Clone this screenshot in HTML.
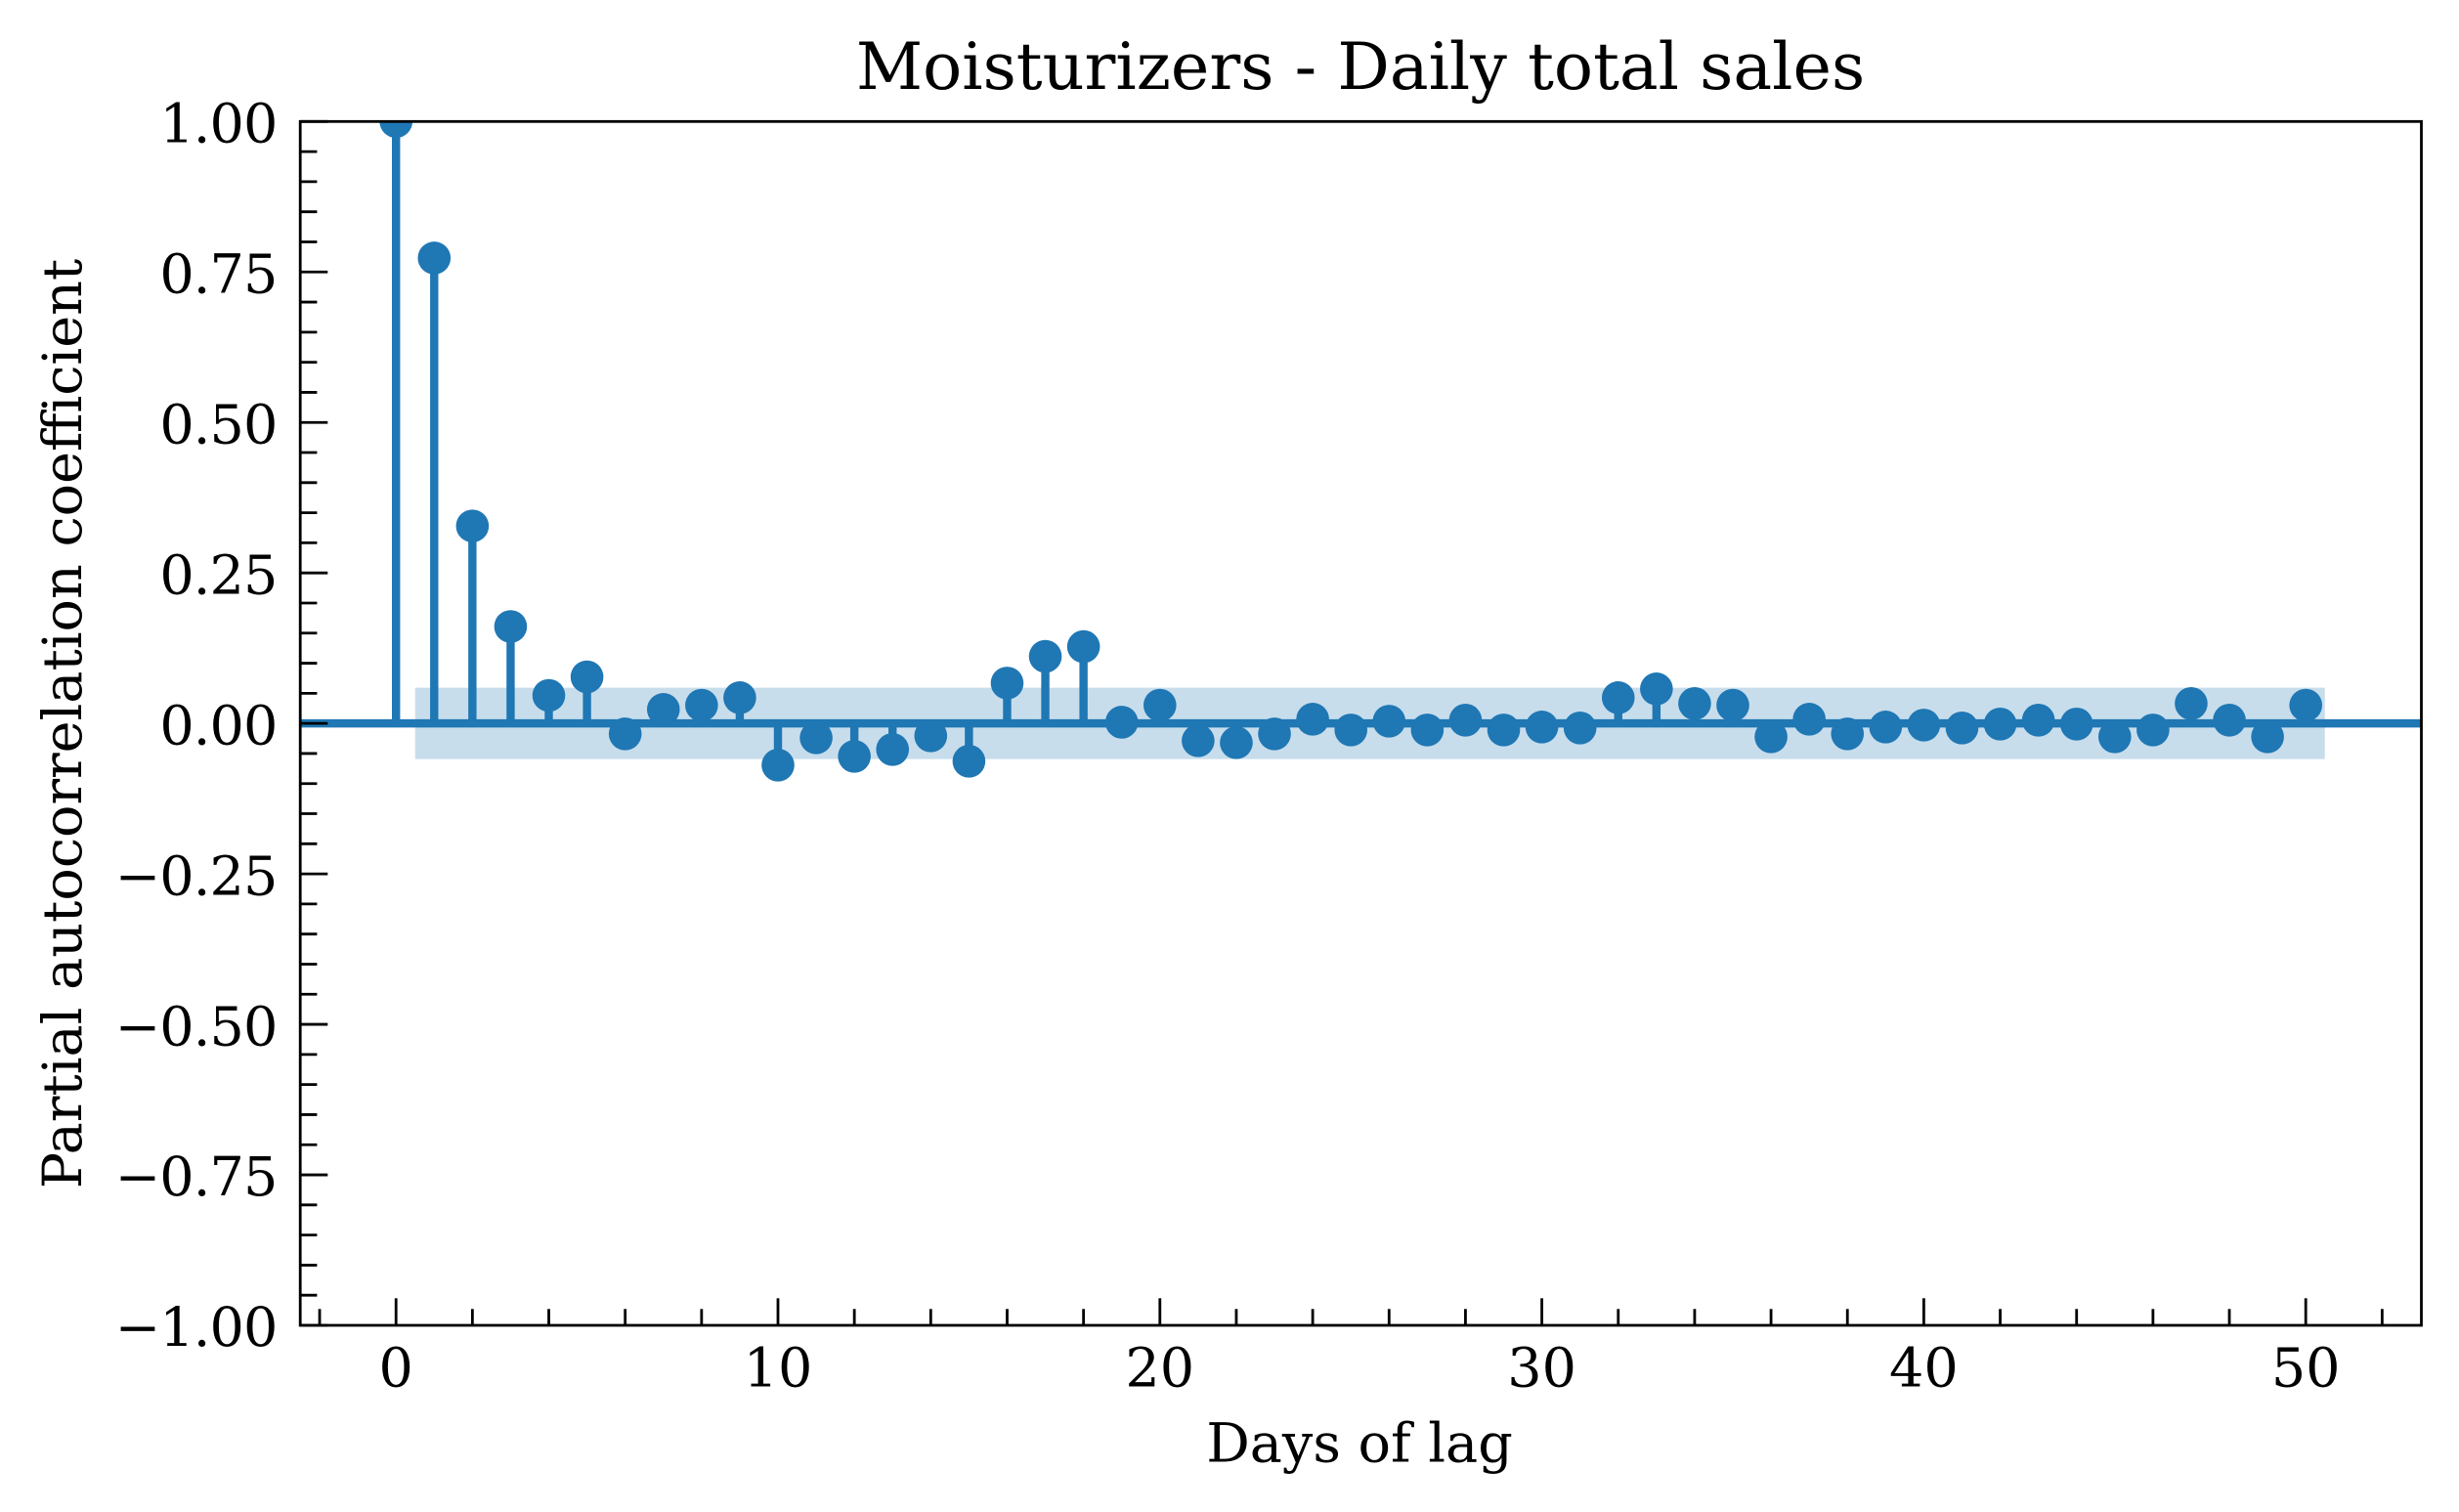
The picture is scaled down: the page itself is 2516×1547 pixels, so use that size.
<!DOCTYPE html>
<html lang="en">
<head>
<meta charset="utf-8">
<title>Moisturizers - Daily total sales</title>
<style>
html,body{margin:0;padding:0;background:#fff;}
svg{display:block;}
text{font-family:"DejaVu Serif","Liberation Serif",serif;fill:#000;}
</style>
</head>
<body>
<svg id="chart" xmlns="http://www.w3.org/2000/svg" width="2516" height="1547" viewBox="0 0 2516 1547">
  <rect x="0" y="0" width="2516" height="1547" fill="#fff"/>
  <defs><clipPath id="plot-clip"><rect x="307.2" y="124.3" width="2170.3" height="1231.7"/></clipPath></defs>
  <g id="plot" clip-path="url(#plot-clip)"></g>
  <g id="ticks"></g>
  <rect x="307.2" y="124.3" width="2170.3" height="1231.7" fill="none" stroke="#000" stroke-width="2.8"/>
  <g id="labels"></g>
  <text x="1392" y="91" font-size="66.7" text-anchor="middle">Moisturizers - Daily total sales</text>
  <text x="1391" y="1495.5" font-size="55.6" text-anchor="middle">Days of lag</text>
  <text x="0" y="0" font-size="55.6" text-anchor="middle" transform="translate(83 740.5) rotate(-90)">Partial autocorrelation coefficient</text>
</svg>
<script>
const lags = [0,1,2,3,4,5,6,7,8,9,10,11,12,13,14,15,16,17,18,19,20,21,22,23,24,25,26,27,28,29,30,31,32,33,34,35,36,37,38,39,40,41,42,43,44,45,46,47,48,49,50];
const pacfValues = [1,0.7732,0.328,0.161,0.0465,0.0773,-0.0174,0.0232,0.0302,0.0427,-0.0693,-0.0239,-0.0547,-0.0433,-0.0206,-0.0628,0.067,0.1114,0.1276,0.002,0.0302,-0.0287,-0.032,-0.0174,0.007,-0.0109,0.0037,-0.0109,0.0054,-0.0109,-0.006,-0.0076,0.0427,0.0573,0.033,0.0302,-0.0222,0.007,-0.0174,-0.006,-0.0028,-0.0076,-0.0011,0.0054,-0.0011,-0.0222,-0.0109,0.033,0.0054,-0.0222,0.0302];
const confLow = [-0.0593];
const confHigh = [0.0593];
const confRange = [0.5,50.5];
const xMajorTicks = [0,10,20,30,40,50];
const xMajorLabels = ["0","10","20","30","40","50"];
const xMinorTicks = [-2,2,4,6,8,12,14,16,18,22,24,26,28,32,34,36,38,42,44,46,48,52];
const yMajorTicks = [1,0.75,0.5,0.25,0,-0.25,-0.5,-0.75,-1];
const yMajorLabels = ["1.00","0.75","0.50","0.25","0.00","\u22120.25","\u22120.50","\u22120.75","\u22121.00"];
const yMinorTicks = [0.95,0.9,0.85,0.8,0.7,0.65,0.6,0.55,0.45,0.4,0.35,0.3,0.2,0.15,0.1,0.05,-0.05,-0.1,-0.15,-0.2,-0.3,-0.35,-0.4,-0.45,-0.55,-0.6,-0.65,-0.7,-0.8,-0.85,-0.9,-0.95];

const NS = "http://www.w3.org/2000/svg";
const BLUE = "#1f77b4";
const plot = document.getElementById("plot");
const ticks = document.getElementById("ticks");
const labels = document.getElementById("labels");
function xScale(v){ return 405.2 + v * 39.08; }
function yScale(v){ return 740.15 - v * 615.85; }
function make(parent, tag, attrs){
  const el = document.createElementNS(NS, tag);
  for (const k in attrs) el.setAttribute(k, attrs[k]);
  parent.appendChild(el);
  return el;
}

const band = make(plot, "rect", {x:xScale(confRange[0]), y:yScale(confHigh[0]), width:xScale(confRange[1])-xScale(confRange[0]), height:yScale(confLow[0])-yScale(confHigh[0]), fill:"#1f77b4", "fill-opacity":0.25});



lags.forEach(function(lag, i){
  const stem = make(plot, "line", {x1:xScale(lag), x2:xScale(lag), y1:yScale(0), y2:yScale(pacfValues[i]), stroke:BLUE, "stroke-width":8.4});
  
  
  const dot = make(plot, "circle", {cx:xScale(lag), cy:yScale(pacfValues[i]), r:16.8, fill:BLUE});
  
  
});

const zeroLine = make(plot, "line", {x1:307, x2:2477.5, y1:yScale(0), y2:yScale(0), stroke:BLUE, "stroke-width":8.5});



xMajorTicks.forEach(function(v, i){
  const t = make(ticks, "line", {x1:xScale(v), x2:xScale(v), y1:1356, y2:1328.3, stroke:"#000", "stroke-width":2.8});
  
  
  const l = make(labels, "text", {x:xScale(v), y:1418.5, "font-size":55.6, "text-anchor":"middle"});
  l.textContent = xMajorLabels[i];
  
  
});
xMinorTicks.forEach(function(v){
  const t = make(ticks, "line", {x1:xScale(v), x2:xScale(v), y1:1356, y2:1339.3, stroke:"#000", "stroke-width":2.8});
  
  
});
yMajorTicks.forEach(function(v, i){
  const t = make(ticks, "line", {x1:307.2, x2:335.3, y1:yScale(v), y2:yScale(v), stroke:"#000", "stroke-width":2.8});
  
  
  const l = make(labels, "text", {x:283.5, y:yScale(v)+21.2, "font-size":55.6, "text-anchor":"end", "letter-spacing":"-0.9px"});
  l.textContent = yMajorLabels[i];
  
  
});
yMinorTicks.forEach(function(v){
  const t = make(ticks, "line", {x1:307.2, x2:324.4, y1:yScale(v), y2:yScale(v), stroke:"#000", "stroke-width":2.8});
  
  
});
</script>
</body>
</html>
